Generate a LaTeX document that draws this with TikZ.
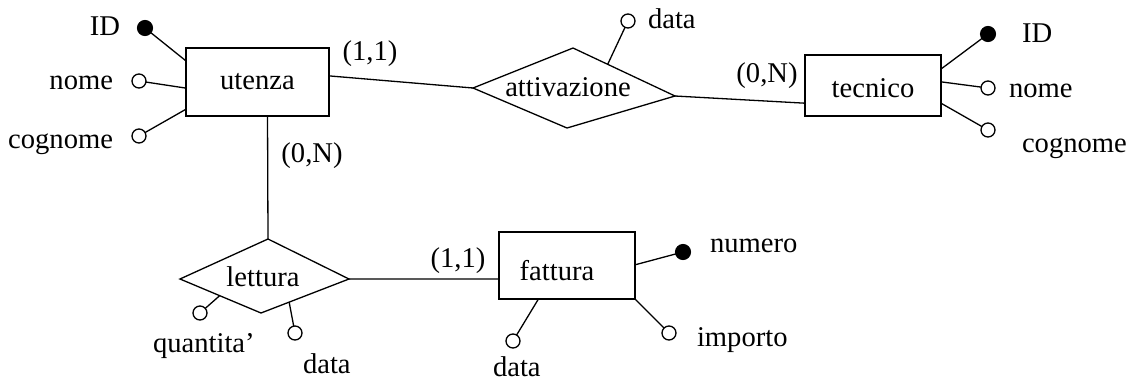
\documentclass[tikz,border=0pt]{standalone}
\usepackage{fontspec}
\setmainfont{Liberation Serif}
\usetikzlibrary{calc}
\begin{document}
\begin{tikzpicture}[x=0.5pt,y=-0.5pt, line width=0.65pt,
  every node/.style={font=\fontsize{14.3}{17}\selectfont, inner sep=0pt, outer sep=0pt},
  entity/.style={draw, rectangle},
  attr/.style={draw, circle, fill=white, minimum size=7pt},
  keyattr/.style={draw, circle, fill=black, minimum size=7.4pt}]
\useasboundingbox (0,0) rectangle (1130,381);

% entities
\node[entity, minimum width=71.5pt, minimum height=34pt] (u) at (257.5,82) {};
\node[anchor=base] (ut) at (257.5,89) {utenza};
\node[entity, minimum width=68pt, minimum height=30.5pt] (t) at (873,85.5) {};
\node[anchor=base] (tt) at (873,97) {tecnico};
\node[entity, minimum width=68pt, minimum height=33.5pt] (f) at (567,265.5) {};
\node[anchor=base] (ft) at (557,280) {fattura};

% relationships
\coordinate (aL) at (473,88);
\coordinate (aT) at (573,48);
\coordinate (aR) at (675,96);
\coordinate (aB) at (567,128);
\draw (aL) -- (aT) -- (aR) -- (aB) -- cycle;
\node[anchor=base] (at) at (568,96.5) {attivazione};

\coordinate (lL) at (180,279);
\coordinate (lT) at (268,239);
\coordinate (lR) at (349,279);
\coordinate (lB) at (261,313);
\draw (lL) -- (lT) -- (lR) -- (lB) -- cycle;
\node[anchor=base] (lt) at (263,286.5) {lettura};

% border points
\coordinate (u1) at ($(u.north west)!0.19!(u.south west)$);
\coordinate (u2) at ($(u.north west)!0.59!(u.south west)$);
\coordinate (u3) at ($(u.north west)!0.90!(u.south west)$);
\coordinate (u4) at ($(u.north east)!0.41!(u.south east)$);
\coordinate (u5) at ($(u.south west)!0.57!(u.south east)$);
\coordinate (t1) at ($(t.north east)!0.23!(t.south east)$);
\coordinate (t2) at ($(t.north east)!0.44!(t.south east)$);
\coordinate (t3) at ($(t.north east)!0.79!(t.south east)$);
\coordinate (t4) at ($(t.north west)!0.79!(t.south west)$);
\coordinate (f1) at ($(f.north east)!0.49!(f.south east)$);
\coordinate (f3) at ($(f.south west)!0.29!(f.south east)$);
\coordinate (f4) at ($(f.north west)!0.70!(f.south west)$);
\coordinate (a1) at ($(aT)!0.34!(aR)$);
\coordinate (l1) at ($(lL)!0.49!(lB)$);
\coordinate (l2) at ($(lB)!0.32!(lR)$);

% attributes
\node[keyattr] (uid) at (145,28) {};
\node[attr] (unome) at (139,81) {};
\node[attr] (ucog) at (139,136) {};
\node[attr] (adata) at (628,21) {};
\node[keyattr] (tid) at (988,34) {};
\node[attr] (tnome) at (988,88) {};
\node[attr] (tcog) at (988,130) {};
\node[attr] (lq) at (200,313) {};
\node[attr] (ld) at (295,333) {};
\node[keyattr] (fnum) at (683,252) {};
\node[attr] (fimp) at (669,333) {};
\node[attr] (fdata) at (513,341) {};

\draw (uid) -- (u1);
\draw (unome) -- (u2);
\draw (ucog) -- (u3);
\draw (adata) -- (a1);
\draw (tid) -- (t1);
\draw (tnome) -- (t2);
\draw (tcog) -- (t3);
\draw (lq) -- (l1);
\draw (ld) -- (l2);
\draw (fnum) -- (f1);
\draw (fimp) -- (f.south east);
\draw (fdata) -- (f3);

% connectors
\draw (u4) -- (aL);
\draw (aR) -- (t4);
\draw (u5) -- (lT);
\draw (lR) -- (f4);

% attribute labels
\node[anchor=base east] at (120,35) {ID};
\node[anchor=base east] at (113,89) {nome};
\node[anchor=base east] at (113,148) {cognome};
\node[anchor=base west] at (648,28) {data};
\node[anchor=base west] at (1022,42) {ID};
\node[anchor=base west] at (1009,97) {nome};
\node[anchor=base west] at (1022,152) {cognome};
\node[anchor=base west] at (153,352) {quantita'};
\node[anchor=base west] at (303,373) {data};
\node[anchor=base west] at (710,252.7) {numero};
\node[anchor=base west] at (697,346.7) {importo};
\node[anchor=base west] at (493,376) {data};

% cardinalities
\node[anchor=base] at (370,60) {(1,1)};
\node[anchor=base] at (312,162) {(0,N)};
\node[anchor=base] at (767,82) {(0,N)};
\node[anchor=base] at (458,267) {(1,1)};
\end{tikzpicture}
\end{document}
